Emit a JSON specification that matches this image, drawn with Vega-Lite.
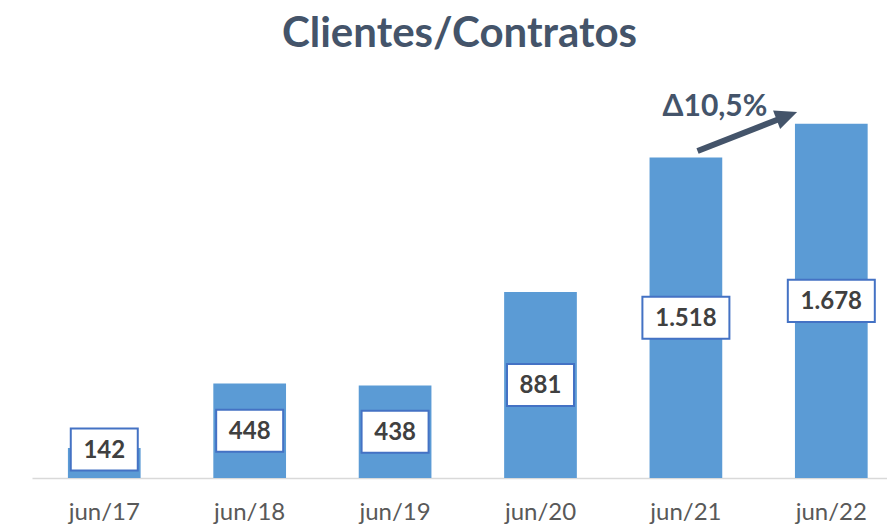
{
  "$schema": "https://vega.github.io/schema/vega-lite/v6.json",
  "width": 855,
  "height": 380,
  "autosize": {"type": "none"},
  "padding": {"left": 32, "top": 98, "right": 0, "bottom": 50},
  "background": "white",
  "config": {
    "view": {"stroke": null},
    "locale": {"number": {"decimal": ",", "thousands": ".", "grouping": [3], "currency": ["", ""]}},
    "axisX": {
      "domainColor": "#D9D9D9",
      "domainWidth": 1.5,
      "ticks": false,
      "grid": false,
      "labelFont": "Lato",
      "labelFontSize": 24,
      "labelColor": "#595959",
      "labelPadding": 22,
      "labelAngle": 0
    }
  },
  "title": {
    "text": "Clientes/Contratos",
    "font": "Lato",
    "fontSize": 42,
    "fontWeight": "bold",
    "color": "#44546A",
    "anchor": "middle",
    "baseline": "alphabetic",
    "offset": 3
  },
  "datasets": {
    "barras": [
      {"periodo": "jun/17", "clientes": 142},
      {"periodo": "jun/18", "clientes": 448},
      {"periodo": "jun/19", "clientes": 438},
      {"periodo": "jun/20", "clientes": 881},
      {"periodo": "jun/21", "clientes": 1518},
      {"periodo": "jun/22", "clientes": 1678}
    ],
    "seta": [
      {"periodo": "jun/21", "periodo_fim": "jun/22", "y_inicio": 1549, "y_fim": 1705}
    ],
    "ponta": [
      {"periodo": "jun/22", "y_ponta": 1734}
    ],
    "nota": [
      {"periodo": "jun/21", "y_nota": 1757, "texto": "Δ10,5%"}
    ]
  },
  "layer": [
    {
      "data": {"name": "barras"},
      "mark": {"type": "bar", "color": "#5B9BD5"},
      "encoding": {
        "x": {
          "field": "periodo",
          "type": "nominal",
          "sort": null,
          "scale": {
            "domain": ["jun/17", "jun/18", "jun/19", "jun/20", "jun/21", "jun/22"],
            "paddingInner": 0.5,
            "paddingOuter": 0.19,
            "align": 0.65
          },
          "axis": {"title": null}
        },
        "y": {
          "field": "clientes",
          "type": "quantitative",
          "scale": {"domain": [0, 1800], "nice": false, "zero": true},
          "axis": null
        }
      }
    },
    {
      "data": {"name": "barras"},
      "transform": [{"calculate": "max(datum.clientes / 2, 135)", "as": "pos_rotulo"}],
      "mark": {"type": "point", "filled": true, "fill": "white", "stroke": "#4472C4", "strokeWidth": 2, "opacity": 1},
      "encoding": {
        "x": {"field": "periodo", "type": "nominal", "sort": null, "axis": {"title": null}},
        "y": {"field": "pos_rotulo", "type": "quantitative", "axis": null},
        "shape": {
          "condition": {"test": "datum.clientes >= 1000", "value": "M-1,-0.483L1,-0.483L1,0.483L-1,0.483Z"},
          "value": "M-1,-0.627L1,-0.627L1,0.627L-1,0.627Z"
        },
        "size": {
          "condition": {"test": "datum.clientes >= 1000", "value": 7569},
          "value": 4489
        }
      }
    },
    {
      "data": {"name": "barras"},
      "transform": [{"calculate": "max(datum.clientes / 2, 135)", "as": "pos_rotulo"}],
      "mark": {"type": "text", "font": "Lato", "fontSize": 24, "fontWeight": "bold", "color": "#404040", "align": "center", "baseline": "middle", "dy": 1},
      "encoding": {
        "x": {"field": "periodo", "type": "nominal", "sort": null, "axis": {"title": null}},
        "y": {"field": "pos_rotulo", "type": "quantitative", "axis": null},
        "text": {"field": "clientes", "type": "quantitative", "format": ","}
      }
    },
    {
      "data": {"name": "seta"},
      "mark": {"type": "rule", "color": "#44546A", "strokeWidth": 6, "strokeCap": "butt"},
      "encoding": {
        "x": {"field": "periodo", "type": "nominal", "sort": null, "bandPosition": 0.66, "axis": {"title": null}},
        "x2": {"field": "periodo_fim", "bandPosition": -0.18},
        "y": {"field": "y_inicio", "type": "quantitative", "axis": null},
        "y2": {"field": "y_fim"}
      }
    },
    {
      "data": {"name": "ponta"},
      "mark": {"type": "point", "filled": true, "color": "#44546A", "opacity": 1, "strokeWidth": 0, "shape": "M0,0L-2,-0.9L-2,0.9Z", "size": 484, "angle": 339},
      "encoding": {
        "x": {"field": "periodo", "type": "nominal", "sort": null, "bandPosition": 0.03, "axis": {"title": null}},
        "y": {"field": "y_ponta", "type": "quantitative", "axis": null}
      }
    },
    {
      "data": {"name": "nota"},
      "mark": {"type": "text", "font": "Lato", "fontSize": 30, "fontWeight": "bold", "color": "#44546A", "align": "center", "baseline": "middle"},
      "encoding": {
        "x": {"field": "periodo", "type": "nominal", "sort": null, "bandPosition": 0.9, "axis": {"title": null}},
        "y": {"field": "y_nota", "type": "quantitative", "axis": null},
        "text": {"field": "texto", "type": "nominal"}
      }
    }
  ]
}
